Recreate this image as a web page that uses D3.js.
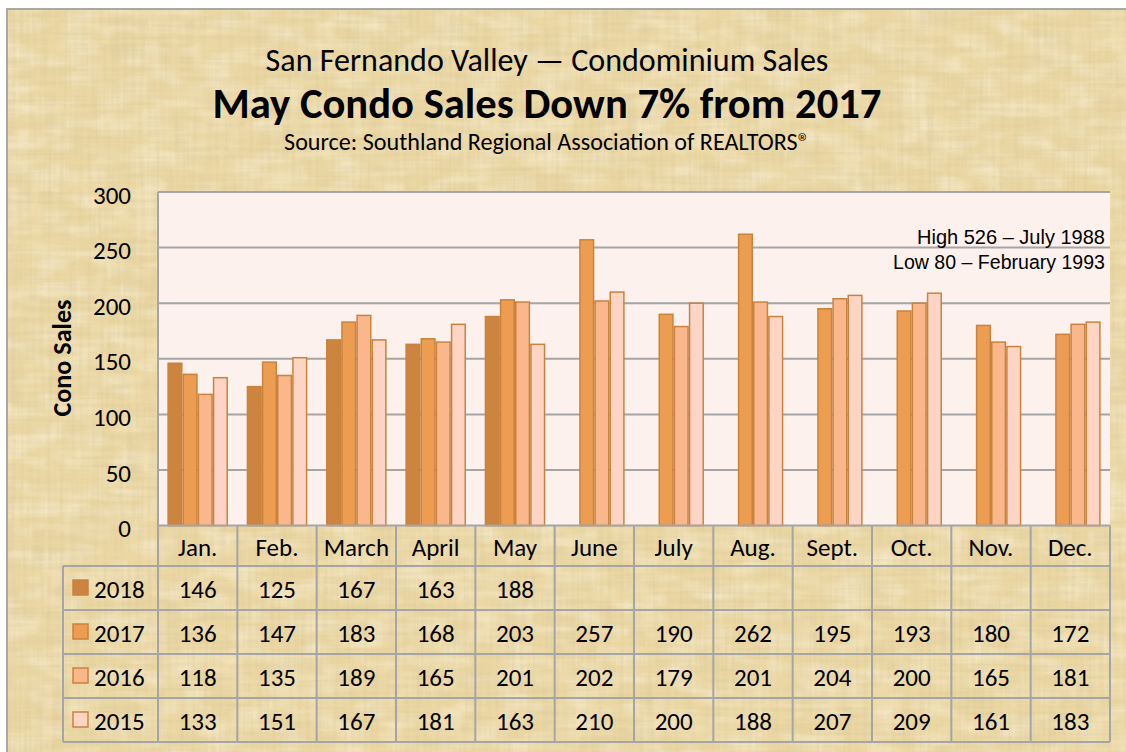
<!DOCTYPE html>
<html>
<head>
<meta charset="utf-8">
<script src="https://cdn.jsdelivr.net/npm/d3@7"></script>
<style>
  html, body { margin: 0; padding: 0; background: #ffffff; }
  svg { display: block; }
  text { font-family: Carlito, Lato, "Open Sans", sans-serif; fill: #000; }
  .narrow { font-family: "Liberation Sans Narrow", "Arial Narrow", "Liberation Sans", Arial, sans-serif; }
</style>
</head>
<body>
<script>
// ---- data ----
const months = ["Jan.", "Feb.", "March", "April", "May", "June", "July", "Aug.", "Sept.", "Oct.", "Nov.", "Dec."];
const years = ["2018", "2017", "2016", "2015"];
const sales2018 = [146, 125, 167, 163, 188, null, null, null, null, null, null, null];
const sales2017 = [136, 147, 183, 168, 203, 257, 190, 262, 195, 193, 180, 172];
const sales2016 = [118, 135, 189, 165, 201, 202, 179, 201, 204, 200, 165, 181];
const sales2015 = [133, 151, 167, 181, 163, 210, 200, 188, 207, 209, 161, 183];
const yTicks = [0, 50, 100, 150, 200, 250, 300];
const titleLine = "San Fernando Valley \u2014 Condominium Sales";
const headline = "May Condo Sales Down 7% from 2017";
const sourceLine = "Source: Southland Regional Association of REALTORS\u00AE";
const yTitle = "Cono Sales";
const noteHigh = "High 526 \u2013  July 1988";
const noteLow = "Low 80 \u2013 February 1993";

const seriesByYear = { "2018": sales2018, "2017": sales2017, "2016": sales2016, "2015": sales2015 };
const colors = { "2018": "#cc843f", "2017": "#ec9d52", "2016": "#f9b78b", "2015": "#fed5c5" };
const barStroke = "#c9833f";
const gridColor = "#a5a5a5";
const labelSize = 25;

const W = 1126, H = 752;
const plot = { left: 158, right: 1110, top: 192, bottom: 525.6 };
const table = { left: 63, headerBottom: 566, rowH: 44 };

const svg = d3.select("body").append("svg").attr("width", W).attr("height", H);
const defs = svg.append("defs");

// parchment fibres: two stretched noise fields, tinted brown and masked to the paper
const f = defs.append("filter").attr("id", "paper").attr("x", 0).attr("y", 0).attr("width", 1).attr("height", 1);
f.append("feTurbulence").attr("type", "fractalNoise").attr("baseFrequency", "0.012 0.25").attr("numOctaves", 2).attr("seed", 4).attr("result", "h");
f.append("feTurbulence").attr("type", "fractalNoise").attr("baseFrequency", "0.25 0.012").attr("numOctaves", 2).attr("seed", 9).attr("result", "v");
f.append("feComposite").attr("in", "h").attr("in2", "v").attr("operator", "arithmetic").attr("k2", 0.5).attr("k3", 0.5).attr("result", "n");
f.append("feColorMatrix").attr("in", "n").attr("type", "matrix")
  .attr("values", "0 0 0 0 0.68  0 0 0 0 0.57  0 0 0 0 0.32  0 0 0 1.4 -0.56").attr("result", "tint");
f.append("feComposite").attr("in", "tint").attr("in2", "SourceGraphic").attr("operator", "in");

const f2 = defs.append("filter").attr("id", "paperLight").attr("x", 0).attr("y", 0).attr("width", 1).attr("height", 1);
f2.append("feTurbulence").attr("type", "fractalNoise").attr("baseFrequency", "0.03 0.06").attr("numOctaves", 2).attr("seed", 21).attr("result", "n");
f2.append("feColorMatrix").attr("in", "n").attr("type", "matrix")
  .attr("values", "0 0 0 0 1  0 0 0 0 0.94  0 0 0 0 0.82  0 0 0 1.0 -0.38").attr("result", "tint");
f2.append("feComposite").attr("in", "tint").attr("in2", "SourceGraphic").attr("operator", "in");

// paper background and frame
svg.append("rect").attr("x", 7).attr("y", 9).attr("width", W).attr("height", H).attr("fill", "#ebd7a3");
svg.append("rect").attr("x", 7).attr("y", 9).attr("width", W).attr("height", H).attr("fill", "#000").attr("filter", "url(#paperLight)");
svg.append("rect").attr("x", 7).attr("y", 9).attr("width", W).attr("height", H).attr("fill", "#000").attr("filter", "url(#paper)");
svg.append("path").attr("d", `M7,${H} V9 H${W}`).attr("fill", "none").attr("stroke", "#a8a8a8").attr("stroke-width", 2);

// fit a text element horizontally to a target width by tuning font size
function fitWidth(sel, target) {
  const node = sel.node();
  const fs = parseFloat(sel.attr("font-size"));
  const w = node.getComputedTextLength();
  if (w > 0) sel.attr("font-size", (fs * target / w).toFixed(2));
  return sel;
}

// titles
const cx = 547;
fitWidth(svg.append("text").attr("x", cx).attr("y", 71).attr("text-anchor", "middle").attr("font-size", 26).text(titleLine), 563);
fitWidth(svg.append("text").attr("x", cx).attr("y", 118).attr("text-anchor", "middle").attr("font-size", 34).attr("font-weight", "bold").text(headline), 669);
fitWidth(svg.append("text").attr("x", cx).attr("y", 150).attr("text-anchor", "middle").attr("font-size", 19).text(sourceLine), 526);

// scales
const x = d3.scaleBand().domain(months).range([plot.left, plot.right]).padding(0);
const inset = x.bandwidth() * 0.118;
const x1 = d3.scaleBand().domain(years).range([inset, x.bandwidth() - inset]).padding(0);
const y = d3.scaleLinear().domain([0, 300]).range([plot.bottom, plot.top]);

// plot area
svg.append("rect").attr("x", plot.left).attr("y", plot.top).attr("width", plot.right - plot.left)
  .attr("height", plot.bottom - plot.top).attr("fill", "#fcf1ec");

// gridlines
svg.append("g").selectAll("line").data(yTicks.filter(t => t > 0)).join("line")
  .attr("x1", plot.left).attr("x2", plot.right).attr("y1", d => y(d)).attr("y2", d => y(d))
  .attr("stroke", gridColor).attr("stroke-width", 2);

// annotation (condensed lettering)
svg.append("text").attr("class", "narrow").attr("x", 1105).attr("y", 244).attr("text-anchor", "end")
  .attr("font-size", 20).attr("textLength", 188).attr("lengthAdjust", "spacingAndGlyphs").text(noteHigh);
svg.append("text").attr("class", "narrow").attr("x", 1105).attr("y", 269).attr("text-anchor", "end")
  .attr("font-size", 20).attr("textLength", 212).attr("lengthAdjust", "spacingAndGlyphs").text(noteLow);

// bars
const barData = [];
months.forEach((m, i) => years.forEach(yr => {
  const v = seriesByYear[yr][i];
  if (v != null) barData.push({ month: m, year: yr, value: v });
}));
svg.append("g").selectAll("rect").data(barData).join("rect")
  .attr("x", d => x(d.month) + x1(d.year) + 0.75)
  .attr("y", d => y(d.value))
  .attr("width", x1.bandwidth() - 1.5)
  .attr("height", d => y(0) - y(d.value))
  .attr("fill", d => colors[d.year])
  .attr("stroke", barStroke).attr("stroke-width", 1.5);

// y axis labels
const yAxis = d3.axisLeft(y).tickValues(yTicks).tickSize(0).tickPadding(0);
const gy = svg.append("g").attr("transform", "translate(131,3)").call(yAxis);
gy.select(".domain").remove();
gy.selectAll("text").attr("font-size", labelSize).attr("font-family", "Carlito, Lato, 'Open Sans', sans-serif").attr("fill", "#000");

// y axis title
fitWidth(svg.append("text").attr("transform", "translate(71,358) rotate(-90)").attr("text-anchor", "middle")
  .attr("font-size", 20).attr("font-weight", "bold").text(yTitle), 117);

// data table
const rowTop = i => table.headerBottom + i * table.rowH;
const tableBottom = rowTop(years.length);
const grid = svg.append("g").attr("stroke", gridColor).attr("stroke-width", 2).attr("fill", "none");
// plot left edge continuing into the table
grid.append("line").attr("x1", plot.left).attr("x2", plot.left).attr("y1", plot.top).attr("y2", tableBottom);
// column separators
grid.selectAll(".col").data(months).join("line").attr("class", "col")
  .attr("x1", d => x(d) + x.bandwidth()).attr("x2", d => x(d) + x.bandwidth())
  .attr("y1", plot.bottom).attr("y2", tableBottom);
grid.append("line").attr("x1", table.left).attr("x2", table.left).attr("y1", table.headerBottom).attr("y2", tableBottom);
// row lines
grid.append("line").attr("x1", plot.left).attr("x2", plot.right).attr("y1", plot.bottom).attr("y2", plot.bottom);
grid.selectAll(".row").data(d3.range(years.length + 1)).join("line").attr("class", "row")
  .attr("x1", table.left).attr("x2", plot.right).attr("y1", i => rowTop(i)).attr("y2", i => rowTop(i));

// month header
svg.append("g").selectAll("text").data(months).join("text")
  .attr("x", d => x(d) + x.bandwidth() / 2).attr("y", (plot.bottom + table.headerBottom) / 2 + 10)
  .attr("text-anchor", "middle").attr("font-size", labelSize).text(d => d);

// rows: legend key, year, values
years.forEach((yr, r) => {
  const mid = rowTop(r) + table.rowH / 2;
  svg.append("rect").attr("x", 73).attr("y", mid - 8).attr("width", 15).attr("height", 15)
    .attr("fill", colors[yr]).attr("stroke", barStroke).attr("stroke-width", 1.5);
  svg.append("text").attr("x", 94).attr("y", mid + 10).attr("font-size", labelSize).text(yr);
  svg.append("g").selectAll("text").data(months.map((m, i) => ({ m, v: seriesByYear[yr][i] })).filter(d => d.v != null))
    .join("text")
    .attr("x", d => x(d.m) + x.bandwidth() / 2).attr("y", mid + 10)
    .attr("text-anchor", "middle").attr("font-size", labelSize).text(d => d.v);
});
</script>
</body>
</html>
